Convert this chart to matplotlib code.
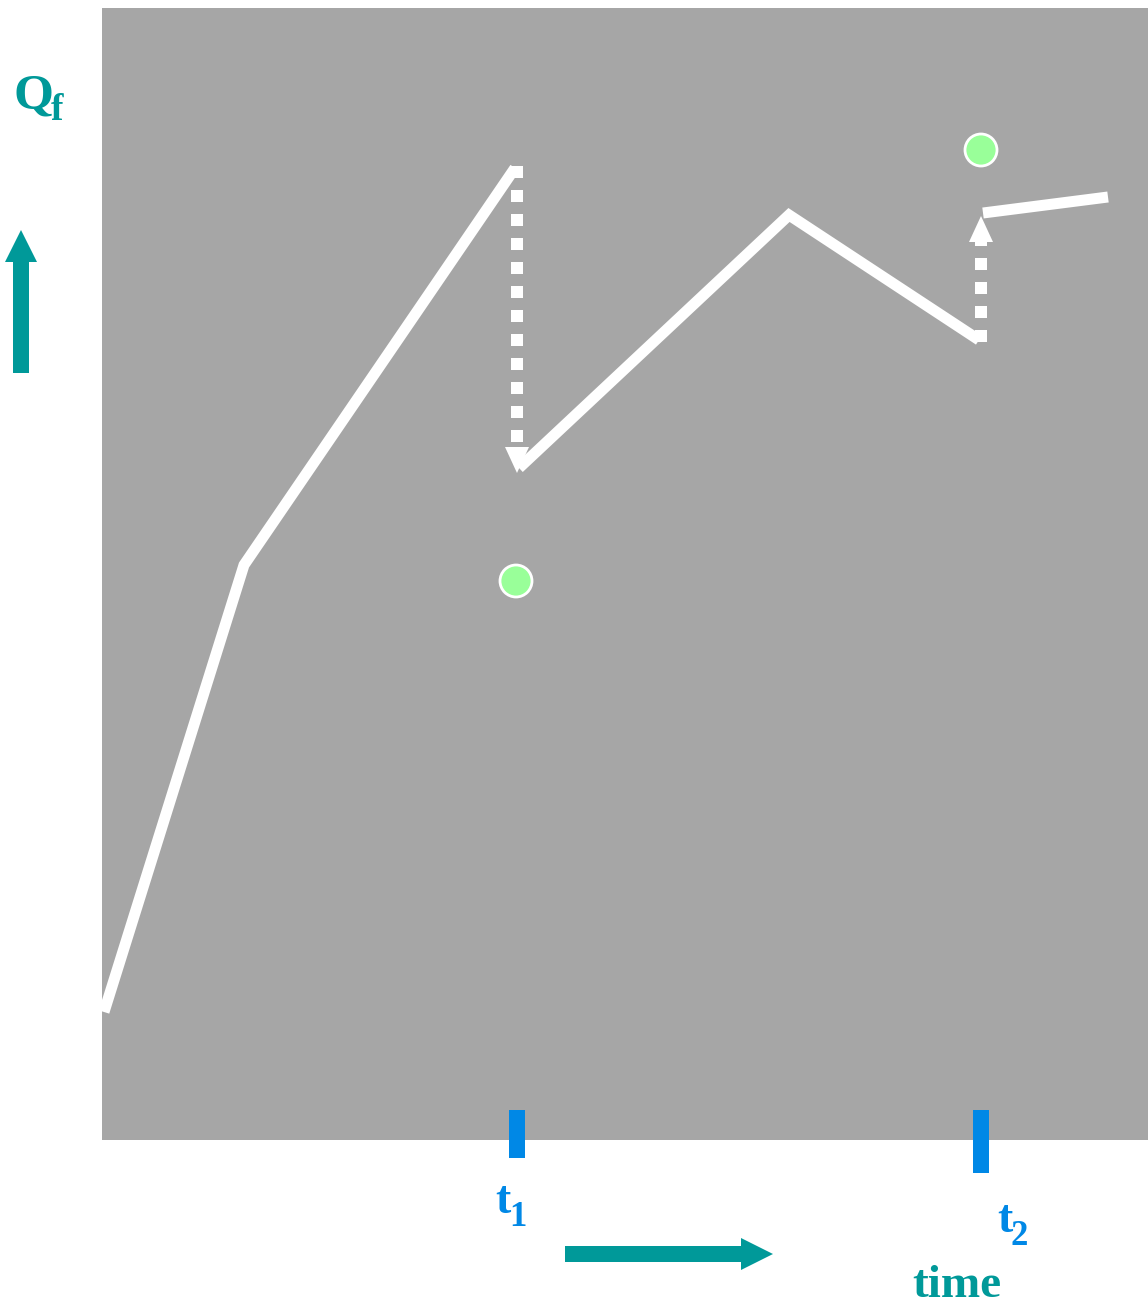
import matplotlib
matplotlib.use("Agg")
import matplotlib.pyplot as plt
from matplotlib.patches import Rectangle, Polygon, Circle

# ---- data (pixel-space scene coordinates, y downward) ----
path1_x = [104, 244, 515]
path1_y = [1012, 565, 168]
path2_x = [519, 789, 979]
path2_y = [468, 215, 340]
path3_x = [983, 1108]
path3_y = [213, 197]
jump_x = [517, 981]
jump_from = [166, 342]
jump_to = [473, 216]
dots_x = [516, 981]
dots_y = [581, 150]
tick_x = [517, 981]
tick_bottom = [1158, 1173]
tick_labels = ["1", "2"]

GRAY = "#a6a6a6"
TEAL = "#009999"
BLUE = "#0088e6"
GREEN = "#99ff99"

fig = plt.figure(figsize=(11.48, 13.08), dpi=100)
ax = fig.add_axes([0, 0, 1, 1])
ax.set_xlim(0, 1148)
ax.set_ylim(1308, 0)
ax.axis("off")

# plot area
ax.add_patch(Rectangle((102, 8), 1046, 1132, facecolor=GRAY, edgecolor="none", zorder=0))

lw = 11 * 72 / 100
for xs, ys in [(path1_x, path1_y), (path2_x, path2_y), (path3_x, path3_y)]:
    ax.plot(xs, ys, color="white", lw=lw, solid_joinstyle="miter", solid_capstyle="butt", zorder=3)

# dotted jump arrows
dlw = 12 * 72 / 100
for x, y0, y1 in zip(jump_x, jump_from, jump_to):
    sgn = 1 if y1 > y0 else -1
    head_len = 26
    base = y1 - sgn * head_len
    ax.plot([x, x], [y0, base], color="white", lw=dlw, linestyle=(0, (1, 1)),
            dash_capstyle="butt", zorder=3)
    ax.add_patch(Polygon([[x - 12, base], [x + 12, base], [x, y1]], closed=True,
                         facecolor="white", edgecolor="none", zorder=4))

# green markers
for x, y in zip(dots_x, dots_y):
    ax.add_patch(Circle((x, y), 16, facecolor=GREEN, edgecolor="white", lw=2, zorder=5))

# blue ticks
for x, yb in zip(tick_x, tick_bottom):
    ax.add_patch(Rectangle((x - 8, 1110), 16, yb - 1110, facecolor=BLUE, edgecolor="none", zorder=6))

serif = ["Liberation Serif", "DejaVu Serif"]
# tick labels
ax.text(495, 1213, "t", color=BLUE, fontsize=33, fontweight="bold", family=serif, ha="left", va="baseline")
ax.text(509, 1226, tick_labels[0], color=BLUE, fontsize=25, fontweight="bold", family=serif, ha="left", va="baseline")
ax.text(997, 1232, "t", color=BLUE, fontsize=33, fontweight="bold", family=serif, ha="left", va="baseline")
ax.text(1011, 1245, tick_labels[1], color=BLUE, fontsize=25, fontweight="bold", family=serif, ha="left", va="baseline")

# axis labels
ax.text(13, 109, "Q", color=TEAL, fontsize=37, fontweight="bold", family=serif, ha="left", va="baseline")
ax.text(51, 120, "f", color=TEAL, fontsize=27, fontweight="bold", family=serif, ha="left", va="baseline")
ax.text(912, 1297, "time", color=TEAL, fontsize=34, fontweight="bold", family=serif, ha="left", va="baseline")

# direction arrows
ax.add_patch(Rectangle((13, 262), 16, 111, facecolor=TEAL, edgecolor="none"))
ax.add_patch(Polygon([[5, 262], [37, 262], [21, 230]], closed=True, facecolor=TEAL, edgecolor="none"))
ax.add_patch(Rectangle((565, 1246), 178, 16, facecolor=TEAL, edgecolor="none"))
ax.add_patch(Polygon([[741, 1238], [741, 1270], [773, 1254]], closed=True, facecolor=TEAL, edgecolor="none"))

fig.savefig("out.png", dpi=100, facecolor="white")
